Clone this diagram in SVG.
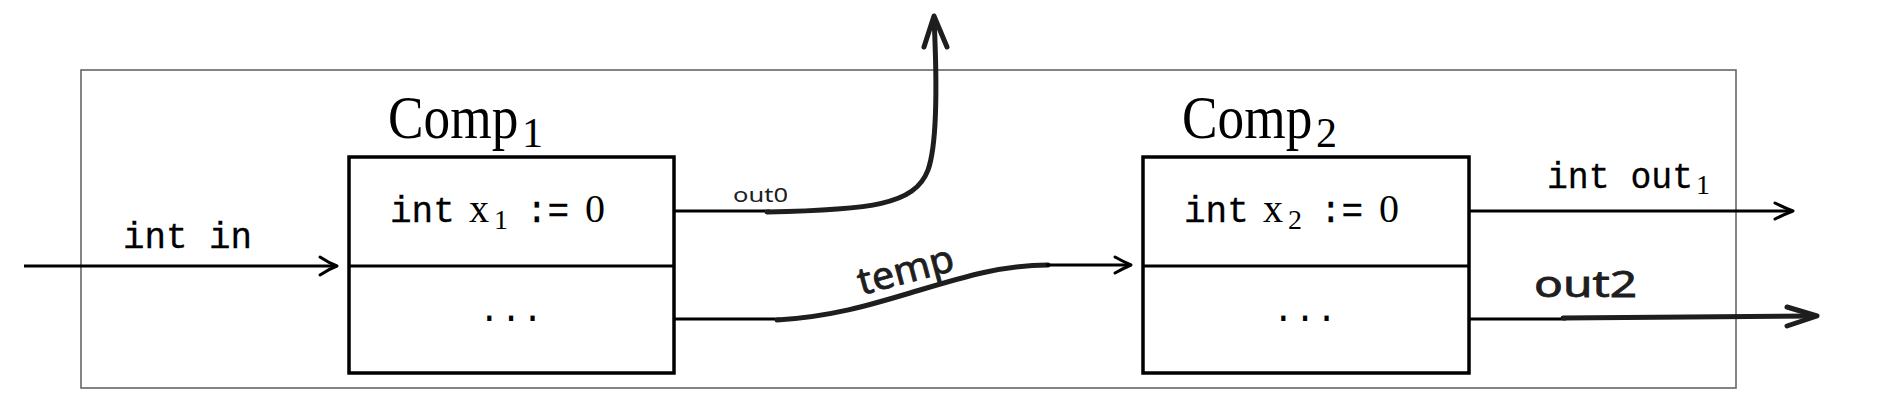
<svg xmlns="http://www.w3.org/2000/svg" width="1890" height="416" viewBox="0 0 1890 416">
<style>
  .frame { fill: none; stroke: #666; stroke-width: 1.6; }
  .box { fill: #fff; stroke: #000; stroke-width: 3.5; }
  .div { stroke: #000; stroke-width: 3; }
  .wire { fill: none; stroke: #000; stroke-width: 3; }
  .head { fill: none; stroke: #000; stroke-width: 3; stroke-linecap: round; stroke-linejoin: round; }
  .sketch { fill: none; stroke: #1e1e1e; stroke-width: 5; stroke-linecap: round; stroke-linejoin: round; }
  .tt { font-family: "Liberation Mono", "Courier New", monospace; fill: #000; stroke: #000; stroke-width: 0.3; }
  .dots { font-family: "Liberation Mono", "Courier New", monospace; fill: #000; }
  .rm { font-family: "Liberation Serif", "Times New Roman", serif; fill: #000; }
  .hand { font-family: "Noto Sans", "Liberation Sans", sans-serif; fill: #1e1e1e; stroke: #1e1e1e; stroke-width: 0.8; }
  .handsm { font-family: "Noto Sans", "Liberation Sans", sans-serif; fill: #1e1e1e; }
</style>
<rect width="1890" height="416" fill="#fff"/>
<g id="frame">
  <rect class="frame" x="81" y="70" width="1655" height="318"/>
</g>
<g id="comp1">
  <rect class="box" x="349" y="157" width="325" height="216"/>
  <line class="div" x1="349" y1="266" x2="674" y2="266"/>
  <text class="rm" font-size="62" transform="translate(388 138) scale(0.86 1)">Comp</text>
  <text class="rm" x="522" y="147" font-size="42">1</text>
  <text class="tt" x="390" y="222" font-size="36">int</text>
  <text class="rm" x="469" y="222" font-size="40">x</text>
  <text class="rm" x="494" y="229" font-size="28">1</text>
  <text class="tt" x="526" y="222" font-size="36">:=</text>
  <text class="rm" x="585" y="222" font-size="40">0</text>
  <text class="dots" x="511" y="321" font-size="36" text-anchor="middle">...</text>
</g>
<g id="comp2">
  <rect class="box" x="1143" y="157" width="326" height="216"/>
  <line class="div" x1="1143" y1="266" x2="1469" y2="266"/>
  <text class="rm" font-size="62" transform="translate(1182 138) scale(0.86 1)">Comp</text>
  <text class="rm" x="1316" y="147" font-size="42">2</text>
  <text class="tt" x="1184" y="222" font-size="36">int</text>
  <text class="rm" x="1263" y="222" font-size="40">x</text>
  <text class="rm" x="1288" y="229" font-size="28">2</text>
  <text class="tt" x="1320" y="222" font-size="36">:=</text>
  <text class="rm" x="1379" y="222" font-size="40">0</text>
  <text class="dots" x="1305" y="321" font-size="36" text-anchor="middle">...</text>
</g>
<g id="connectors">
  <line class="wire" x1="24" y1="266" x2="335" y2="266"/>
  <path class="head" d="M320,257 Q329,263 337,266 Q329,269 320,275"/>
  <line class="wire" x1="674" y1="211" x2="770" y2="211"/>
  <path class="sketch" d="M767,212 C870,210 915,205 928,170 C937,145 937,80 934,18"/>
  <path class="sketch" d="M924,47 L934,16 L947,47"/>
  <line class="wire" x1="674" y1="319" x2="780" y2="319"/>
  <path class="sketch" d="M777,320 C830,317 870,305 910,293 C960,278 1000,265 1048,265"/>
  <line class="wire" x1="1046" y1="265" x2="1129" y2="265"/>
  <path class="head" d="M1115,257 Q1124,262 1131,265 Q1124,268 1115,273"/>
  <line class="wire" x1="1469" y1="211" x2="1791" y2="211"/>
  <path class="head" d="M1775,203 Q1785,208 1793,211 Q1785,214 1775,219"/>
  <line class="wire" x1="1469" y1="319" x2="1566" y2="319"/>
  <path class="sketch" d="M1563,318 L1815,316"/>
  <path class="sketch" d="M1787,307 L1817,316 L1787,326"/>
</g>
<g id="labels">
  <text class="tt" x="123" y="248" font-size="36" textLength="129" lengthAdjust="spacingAndGlyphs">int in</text>
  <text class="handsm" x="733" y="202" font-size="20" textLength="55" lengthAdjust="spacingAndGlyphs">out0</text>
  <text class="hand" x="906" y="283" font-size="38" text-anchor="middle" textLength="98" lengthAdjust="spacingAndGlyphs" transform="rotate(-15 906 272)">temp</text>
  <text class="hand" x="1534" y="297" font-size="36" textLength="103" lengthAdjust="spacingAndGlyphs">out2</text>
  <text class="tt" x="1547" y="188" font-size="36" textLength="146" lengthAdjust="spacingAndGlyphs">int out</text>
  <text class="rm" x="1696" y="194" font-size="28">1</text>
</g>
</svg>
